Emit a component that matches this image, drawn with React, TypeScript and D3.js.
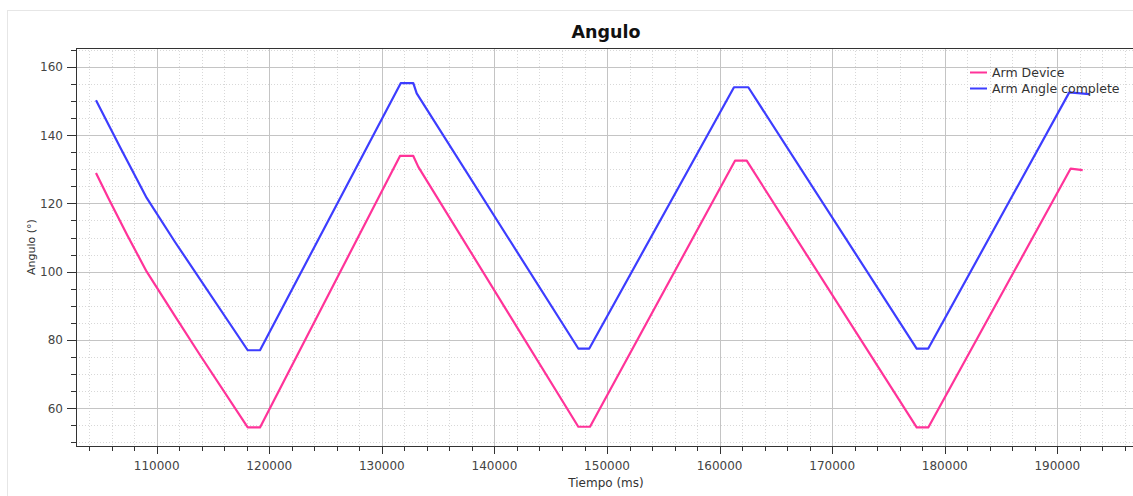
import React from "react";
import * as d3 from "d3";

const blueTimes = [104609, 106740, 109112, 111626, 118084, 119176, 131674, 132793, 133095, 147450, 148427, 161279, 162549, 177506, 178536, 191062, 192839];
const blueValues = [150.2, 136.5, 121.6, 108.7, 77.0, 77.0, 155.2, 155.2, 152.2, 77.5, 77.5, 154.0, 154.0, 77.5, 77.5, 152.5, 152.0];

const pinkTimes = [104609, 105701, 107400, 109112, 111626, 113846, 118084, 119176, 131612, 132793, 133237, 147450, 148490, 161368, 162409, 177506, 178536, 191186, 192253];
const pinkValues = [128.9, 121.6, 110.6, 100.0, 87.0, 75.6, 54.4, 54.4, 133.9, 133.9, 130.7, 54.6, 54.6, 132.5, 132.5, 54.4, 54.4, 130.2, 129.75];

const xTicks = [110000, 120000, 130000, 140000, 150000, 160000, 170000, 180000, 190000];
const yTicks = [60, 80, 100, 120, 140, 160];
const seriesNames = ["Arm Device", "Arm Angle complete"];
const seriesColors = ["#ff3399", "#3d3dff"];

const W = 1133;
const H = 496;
const L = 76;
const R = 1133;
const T = 48;
const B = 446;

export default function App() {
  const x = d3.scaleLinear().domain([102832, 196721]).range([L, R]);
  const y = d3.scaleLinear().domain([48.96, 165.5]).range([B, T]);

  const minorX: number[] = [];
  for (let t = 104000; t <= 196000; t += 2000) if (t % 10000 !== 0) minorX.push(t);
  const minorY: number[] = [];
  for (let v = 50; v <= 165; v += 5) if (v % 20 !== 0) minorY.push(v);

  const line = d3
    .line<[number, number]>()
    .x((d) => x(d[0]))
    .y((d) => y(d[1]));

  const pinkData = pinkTimes.map((t, i) => [t, pinkValues[i]] as [number, number]);
  const blueData = blueTimes.map((t, i) => [t, blueValues[i]] as [number, number]);

  const font = "'DejaVu Sans', sans-serif";

  return (
    <svg width={W} height={H} style={{ position: "absolute", left: 0, top: 0 }} fontFamily={font}>
      <rect x={0} y={0} width={W} height={H} fill="#ffffff" />
      <rect x={7.5} y={10.5} width={1140} height={500} fill="#ffffff" stroke="#e6e6e6" />
      <text x={606} y={38} textAnchor="middle" fontSize={17.5} fontWeight="bold" fill="#111">
        Angulo
      </text>

      {/* minor grid */}
      {minorX.map((t) => (
        <line key={"mx" + t} x1={Math.round(x(t)) + 0.5} x2={Math.round(x(t)) + 0.5} y1={T} y2={B} stroke="#d8d8d8" strokeDasharray="1,2" />
      ))}
      {minorY.map((v) => (
        <line key={"my" + v} x1={L} x2={R} y1={Math.round(y(v)) + 0.5} y2={Math.round(y(v)) + 0.5} stroke="#d8d8d8" strokeDasharray="1,2" />
      ))}
      {/* major grid */}
      {xTicks.map((t) => (
        <line key={"gx" + t} x1={Math.round(x(t)) + 0.5} x2={Math.round(x(t)) + 0.5} y1={T} y2={B} stroke="#c4c4c4" />
      ))}
      {yTicks.map((v) => (
        <line key={"gy" + v} x1={L} x2={R} y1={Math.round(y(v)) + 0.5} y2={Math.round(y(v)) + 0.5} stroke="#c4c4c4" />
      ))}

      {/* plot border / axes */}
      <line x1={L} x2={R} y1={T + 0.5} y2={T + 0.5} stroke="#333" />
      <line x1={L + 0.5} x2={L + 0.5} y1={T} y2={B} stroke="#333" />
      <line x1={L} x2={R} y1={B + 0.5} y2={B + 0.5} stroke="#333" />

      {/* y ticks */}
      {minorY.map((v) => (
        <line key={"tmy" + v} x1={L - 5} x2={L} y1={Math.round(y(v)) + 0.5} y2={Math.round(y(v)) + 0.5} stroke="#333" />
      ))}
      {yTicks.map((v) => (
        <g key={"ty" + v}>
          <line x1={L - 9} x2={L} y1={Math.round(y(v)) + 0.5} y2={Math.round(y(v)) + 0.5} stroke="#333" />
          <text x={63} y={y(v) + 4.5} textAnchor="end" fontSize={12} fill="#444">
            {v}
          </text>
        </g>
      ))}

      {/* x ticks */}
      {minorX.map((t) => (
        <line key={"tmx" + t} x1={Math.round(x(t)) + 0.5} x2={Math.round(x(t)) + 0.5} y1={B} y2={B + 5} stroke="#333" />
      ))}
      {xTicks.map((t) => (
        <g key={"tx" + t}>
          <line x1={Math.round(x(t)) + 0.5} x2={Math.round(x(t)) + 0.5} y1={B} y2={B + 8} stroke="#333" />
          <text x={x(t)} y={470} textAnchor="middle" fontSize={12} fill="#444">
            {t}
          </text>
        </g>
      ))}

      <text x={606} y={487} textAnchor="middle" fontSize={12} fill="#333">
        Tiempo (ms)
      </text>
      <text transform="translate(35,247) rotate(-90)" textAnchor="middle" fontSize={11} fill="#333">
        Angulo (°)
      </text>

      {/* series */}
      <path d={line(pinkData) || ""} fill="none" stroke={seriesColors[0]} strokeWidth={2.2} strokeLinejoin="round" />
      <path d={line(blueData) || ""} fill="none" stroke={seriesColors[1]} strokeWidth={2.2} strokeLinejoin="round" />

      {/* legend */}
      {seriesNames.map((n, i) => (
        <g key={n}>
          <line x1={970} x2={987} y1={72.5 + i * 16} y2={72.5 + i * 16} stroke={seriesColors[i]} strokeWidth={2} />
          <text x={992} y={77 + i * 16} fontSize={12.5} fill="#333">
            {n}
          </text>
        </g>
      ))}
    </svg>
  );
}
